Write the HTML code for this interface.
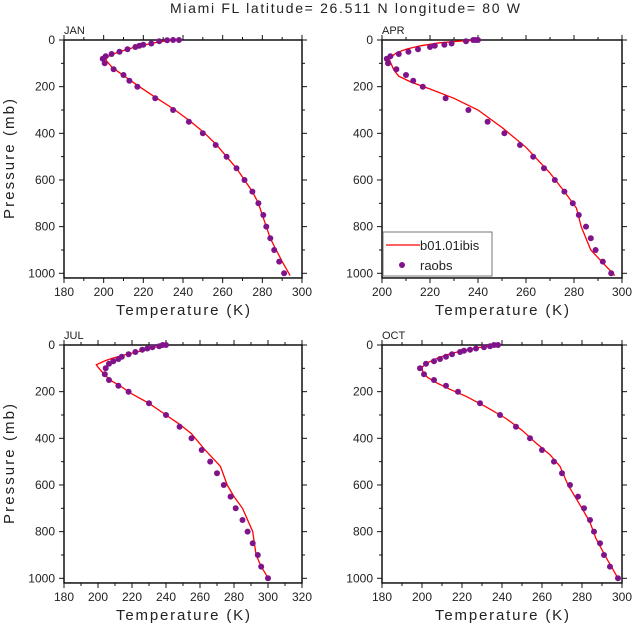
<!DOCTYPE html>
<html><head><meta charset="utf-8"><style>
html,body{margin:0;padding:0;background:#fff;}
svg text{font-family:"Liberation Sans",sans-serif;fill:#222;}
</style></head><body>
<svg id="s" width="633" height="629" xmlns="http://www.w3.org/2000/svg"></svg>
<script>
const S=document.getElementById('s');let h='';
h+='<text x="345" y="13" font-size="14" text-anchor="middle" fill="#333" textLength="350" lengthAdjust="spacing">Miami FL  latitude= 26.511 N longitude= 80 W</text>';
const panels=[
{n:'JAN',x0:64,x1:302,y0:40,tmin:180,tmax:300,ylab:true,
d:[[238,0],[235,0],[232,1],[228,5],[224,15],[220,20],[218,25],[216,30],[212,40],[208,50],[204,60],[201,70],[199.5,80],[200.5,100],[205,125],[210,150],[213,175],[217,200],[226,250],[235,300],[243,350],[250,400],[256.5,450],[262,500],[267,550],[271,600],[275,650],[278,700],[280.5,750],[282,800],[284,850],[286,900],[288.5,950],[291,1000]],
l:[[235,0],[232,3],[228,8],[224,15],[220,22],[216,30],[212,40],[208,50],[204,62],[201,78],[201.5,90],[204,115],[208,140],[213,170],[218,200],[226,245],[236,300],[244,350],[251,400],[257,450],[262,500],[267,550],[271,600],[275,650],[278,700],[280,750],[282,800],[284,850],[287,900],[290,950],[294,1010]]},
{n:'APR',x0:382,x1:622,y0:40,tmin:200,tmax:300,legend:true,
d:[[240,0],[239,0],[238,0],[235,5],[229,15],[226,20],[222,25],[220,30],[215,40],[211,50],[207,60],[203.5,70],[202,80],[202.5,100],[206,125],[210,150],[213,175],[217,200],[226.5,250],[236,300],[244,350],[251,400],[257.5,450],[263,500],[267.5,550],[272,600],[276,650],[279.5,700],[282,750],[285,800],[287,850],[289,900],[292,950],[295.5,1000]],
l:[[240,0],[232,5],[224,12],[216,25],[210,40],[206,55],[203,80],[203.5,95],[205,130],[207,155],[212,180],[220,210],[230,250],[240,300],[250,375],[260,460],[270,570],[276,650],[281,720],[283,800],[287,900],[297,1010]]},
{n:'JUL',x0:64,x1:302,y0:345,tmin:180,tmax:320,ylab:true,
d:[[240,0],[238,0],[236,5],[232,10],[229,15],[226,20],[222,30],[218,40],[214,50],[212,60],[209,70],[206.5,80],[204.5,100],[204,125],[206.5,150],[212,175],[218,200],[230,250],[240,300],[248,350],[255,400],[261,450],[266,500],[270,550],[274,600],[278,650],[281,700],[285,750],[288,800],[291,850],[294,900],[296,950],[300,1000]],
l:[[240,0],[236,5],[230,15],[224,28],[216,42],[208,58],[204,68],[199,85],[200,95],[203,120],[207,150],[213,175],[220,210],[230,250],[240,300],[248,340],[255,380],[263,450],[272,520],[276,600],[280,650],[285,700],[291,800],[292,850],[293,900],[296,950],[301,1010]]},
{n:'OCT',x0:382,x1:622,y0:345,tmin:180,tmax:300,
d:[[238,0],[236,0],[234,5],[231,10],[227,15],[224,20],[221,25],[219,30],[215,40],[212,50],[209,60],[206,70],[202,80],[199,100],[201,125],[206,150],[212,175],[218,200],[229,250],[239,300],[247,350],[254,400],[260,450],[266,500],[270,550],[274,600],[278,650],[281,700],[284,750],[286,800],[289,850],[291,900],[294,950],[298,1000]],
l:[[237,0],[232,5],[226,15],[220,25],[214,38],[208,55],[203,75],[200,95],[200.5,120],[203,140],[208,165],[214,190],[222,220],[232,265],[242,315],[250,365],[257,420],[264,470],[269,520],[273,600],[280,700],[284,760],[287,830],[292,910],[298,1000]]}
];
for(const p of panels){
 const ky=0.2333, y1=p.y0+1020*ky;
 const X=t=>p.x0+(t-p.tmin)/(p.tmax-p.tmin)*(p.x1-p.x0), Y=v=>p.y0+v*ky;
 h+=`<rect x="${p.x0}" y="${p.y0}" width="${p.x1-p.x0}" height="${y1-p.y0}" fill="none" stroke="#111" stroke-width="1.5"/>`;
 for(let t=p.tmin;t<=p.tmax;t+=10){const x=X(t),maj=(t%20==0);
  h+=`<line x1="${x}" y1="${y1}" x2="${x}" y2="${y1+(maj?5:3)}" stroke="#111"/><line x1="${x}" y1="${p.y0}" x2="${x}" y2="${p.y0-(maj?5:3)}" stroke="#111"/>`;
  if(maj)h+=`<text x="${x}" y="${y1+18}" font-size="12" text-anchor="middle">${t}</text>`;}
 for(let v=0;v<=1000;v+=100){const y=Y(v),maj=(v%200==0);
  h+=`<line x1="${p.x0}" y1="${y}" x2="${p.x0-(maj?5:3)}" y2="${y}" stroke="#111"/><line x1="${p.x1}" y1="${y}" x2="${p.x1+(maj?5:3)}" y2="${y}" stroke="#111"/>`;
  if(maj)h+=`<text x="${p.x0-9}" y="${y+4}" font-size="12" text-anchor="end">${v}</text>`;}
 h+=`<text x="${p.x0}" y="${p.y0-6}" font-size="11">${p.n}</text>`;
 h+=`<text x="${(p.x0+p.x1)/2}" y="${y1+37}" font-size="15" text-anchor="middle" fill="#333" textLength="134" lengthAdjust="spacing">Temperature (K)</text>`;
 if(p.ylab)h+=`<text transform="translate(14,${(p.y0+y1)/2}) rotate(-90)" font-size="15" text-anchor="middle" fill="#333" textLength="120" lengthAdjust="spacing">Pressure (mb)</text>`;
 h+=`<polyline fill="none" stroke="#f00" stroke-width="1.3" points="${p.l.map(a=>X(a[0]).toFixed(1)+','+Y(a[1]).toFixed(1)).join(' ')}"/>`;
 for(const a of p.d)h+=`<circle cx="${X(a[0]).toFixed(1)}" cy="${Y(a[1]).toFixed(1)}" r="3" fill="#80138a"/>`;
 if(p.legend){
  h+=`<rect x="383" y="232" width="109" height="44" fill="#fff" stroke="#777"/>`;
  h+=`<line x1="386" y1="245" x2="420" y2="245" stroke="#f00" stroke-width="1.3"/><text x="420" y="250" font-size="13">b01.01ibis</text>`;
  h+=`<circle cx="402" cy="265" r="3" fill="#80138a"/><text x="420" y="270" font-size="13">raobs</text>`;
 }
}
S.innerHTML=h;
</script>
</body></html>
